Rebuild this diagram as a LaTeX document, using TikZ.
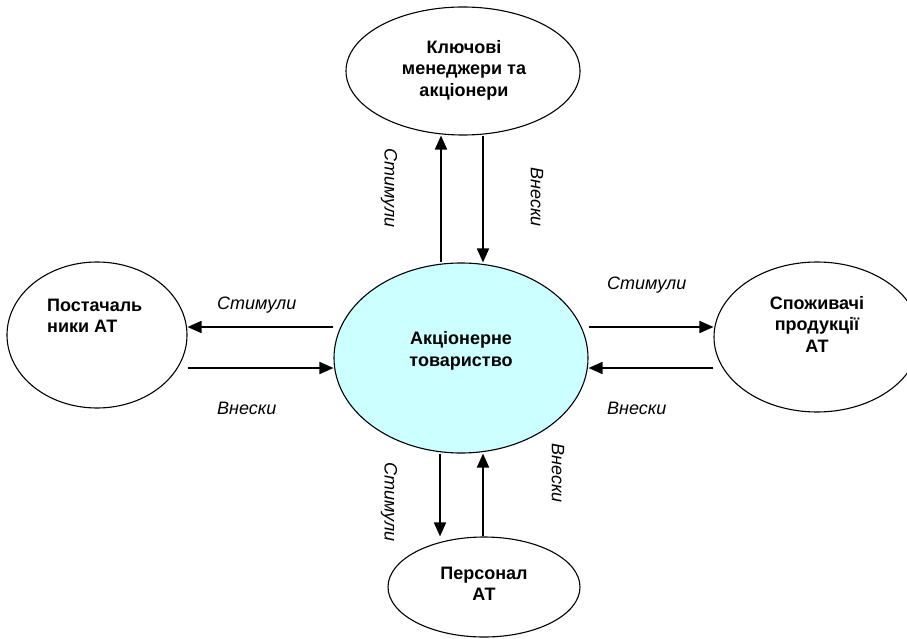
\documentclass[tikz,border=0pt]{standalone}
\usepackage{fontspec}
\setmainfont{Liberation Sans}
\usetikzlibrary{arrows.meta,shapes.geometric}
\definecolor{firmcyan}{RGB}{204,255,255}

\tikzset{
  party/.style={draw=black, line width=1.1pt, ellipse, inner sep=0pt},
  who/.style={font=\bfseries\fontsize{18}{21.5}\selectfont, align=center, inner sep=0pt},
  flow/.style={line width=1.7pt, -{Triangle[length=14pt,width=12pt]}},
  tag/.style={font=\itshape\fontsize{18}{21.5}\selectfont, inner sep=0pt}
}

\begin{document}
\begin{tikzpicture}[x=1pt,y=-1pt]
\useasboundingbox (0,0) rectangle (907,639);
\node [party, fill=firmcyan, minimum width=254pt, minimum height=190pt] (firm) at (461,358) {};
\node [party, minimum width=234pt, minimum height=128pt] (boss) at (463,71) {};
\node [party, minimum width=180pt, minimum height=146pt] (supp) at (97,335) {};
\node [party, minimum width=206pt, minimum height=150pt] (cons) at (817,337) {};
\node [party, minimum width=192pt, minimum height=100pt] (staff) at (484,587) {};
\node [who] (firmtext) at (461,351) {Акціонерне\\товариство};
\node [who] (bosstext) at (464,70) {Ключові\\менеджери та\\акціонери};
\node [who, align=left, anchor=west] (supptext) at (47,316) {Постачаль\\ники АТ};
\node [who] (constext) at (817,324) {Споживачі\\продукції\\АТ};
\node [who] (stafftext) at (484,584) {Персонал\\АТ};
\draw [flow] ([xshift=-20pt]firm.north) -- ([xshift=-20pt]firm.north |- boss.south);
\draw [flow] ([xshift=22pt]firm.north |- boss.south) -- ([xshift=22pt]firm.north);
\draw [flow] ([yshift=31pt]firm.west) -- ([yshift=31pt]firm.west -| supp.east);
\draw [flow] ([yshift=-10pt]firm.west -| supp.east) -- ([yshift=-10pt]firm.west);
\draw [flow] ([yshift=31pt]firm.east) -- ([yshift=31pt]firm.east -| cons.west);
\draw [flow] ([yshift=-10pt]firm.east -| cons.west) -- ([yshift=-10pt]firm.east);
\draw [flow] ([xshift=-21pt]firm.south) -- ([xshift=-21pt]firm.south |- staff.north);
\draw [flow] ([xshift=22pt]firm.south |- staff.north) -- ([xshift=22pt]firm.south);
\node [tag, rotate=-90] (stimboss) at (389,188) {Стимули};
\node [tag, rotate=-90] (inboss) at (537,197) {Внески};
\node [tag, anchor=west] (stimsupp) at (217,305) {Стимули};
\node [tag, anchor=west] (insupp) at (217,408) {Внески};
\node [tag, anchor=west] (stimcons) at (607,285) {Стимули};
\node [tag, anchor=west] (incons) at (607,408) {Внески};
\node [tag, rotate=-90] (stimstaff) at (389,502) {Стимули};
\node [tag, rotate=-90] (instaff) at (558,473) {Внески};
\end{tikzpicture}
\end{document}
